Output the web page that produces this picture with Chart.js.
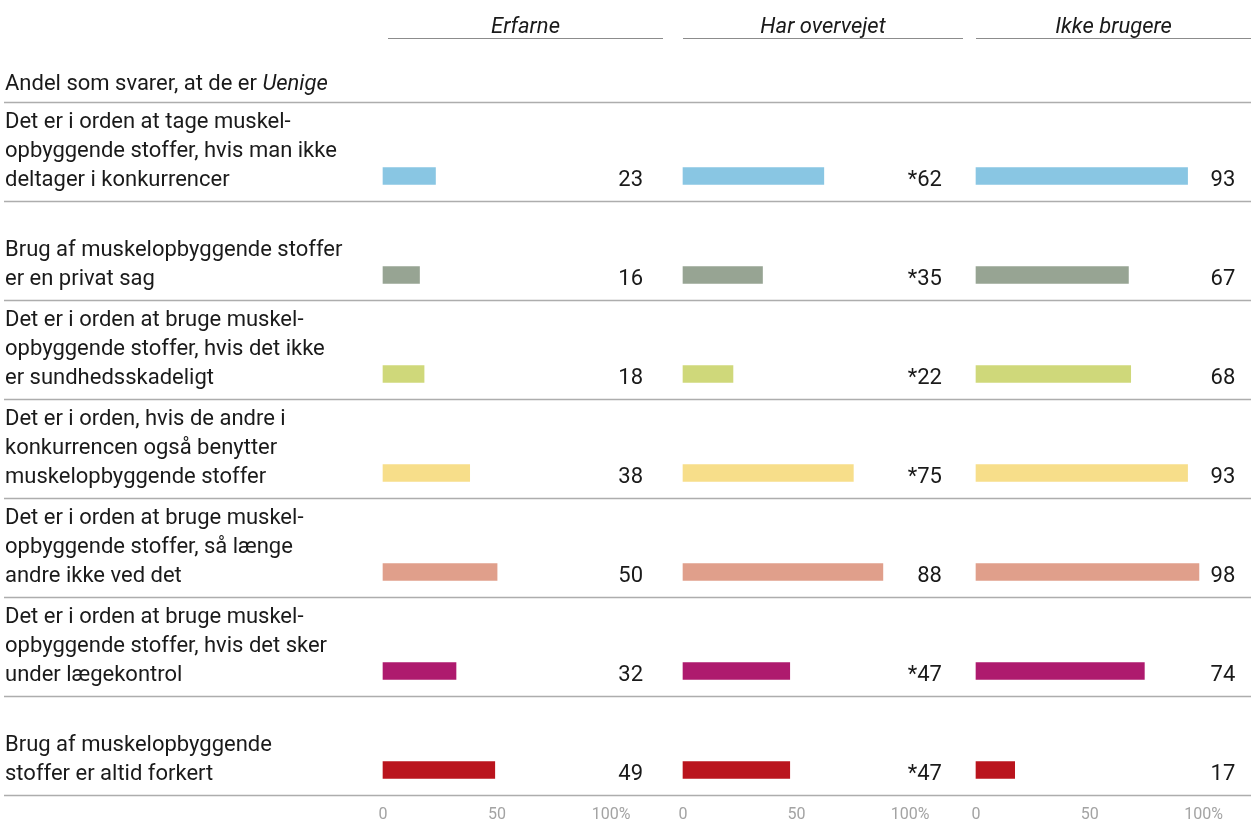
<!DOCTYPE html>
<html>
<head>
<meta charset="utf-8">
<script src="https://cdn.jsdelivr.net/npm/chart.js@4/dist/chart.umd.min.js"></script>
<style>
  html, body { margin: 0; padding: 0; background: #fff; }
  #wrap { width: 1251px; height: 823px; }
</style>
</head>
<body>
<div id="wrap"><canvas id="uenige"></canvas></div>
<script>
// statements (one array of lines per row)
var statements = [
    ['Det er i orden at tage muskel-', 'opbyggende stoffer, hvis man ikke', 'deltager i konkurrencer'],
    ['Brug af muskelopbyggende stoffer', 'er en privat sag'],
    ['Det er i orden at bruge muskel-', 'opbyggende stoffer, hvis det ikke', 'er sundhedsskadeligt'],
    ['Det er i orden, hvis de andre i', 'konkurrencen også benytter', 'muskelopbyggende stoffer'],
    ['Det er i orden at bruge muskel-', 'opbyggende stoffer, så længe', 'andre ikke ved det'],
    ['Det er i orden at bruge muskel-', 'opbyggende stoffer, hvis det sker', 'under lægekontrol'],
    ['Brug af muskelopbyggende', 'stoffer er altid forkert']
];
var groups = ['Erfarne', 'Har overvejet', 'Ikke brugere'];

var erfarne = [23, 16, 18, 38, 50, 32, 49];
var harOvervejet = [62, 35, 22, 75, 88, 47, 47];
var ikkeBrugere = [93, 67, 68, 93, 98, 74, 17];
// rows marked with * in "Har overvejet"
var harOvervejetStar = [true, true, true, true, false, true, true];

var tickValues = [0, 50, 100];
var rowColors = ['#89c6e3', '#97a493', '#cfd87a', '#f7de8a', '#e09f8b', '#ae1a6e', '#ba141d'];

var fontFamily = 'Roboto, "Noto Sans", sans-serif';
Chart.defaults.font.family = fontFamily;

function panelAxis(max, weight) {
    return {
        type: 'linear',
        position: 'bottom',
        stack: 'panels',
        stackWeight: weight,
        min: 0,
        max: max,
        grid: { display: false, drawTicks: false },
        border: { display: false },
        afterBuildTicks: function (axis) {
            axis.ticks = tickValues.map(function (v) { return { value: v }; });
        },
        afterFit: function (axis) {
            // fixed band under the bars, no extra side padding
            axis.height = 53;
            axis.paddingLeft = 0;
            axis.paddingRight = 0;
        },
        ticks: {
            padding: 35,
            color: '#a3a3a3',
            font: { size: 16 },
            maxRotation: 0,
            autoSkip: false,
            callback: function (v) { return v === 100 ? '100%' : v; }
        }
    };
}

// headers, row labels, separators and value labels
var panelFrame = {
    id: 'panelFrame',
    afterDraw: function (chart) {
        var ctx = chart.ctx;
        var y = chart.scales.y;
        var w = chart.width;
        var axisIds = ['x1', 'x2', 'x3'];
        var stars = [null, harOvervejetStar, null];
        ctx.save();

        // group headers
        axisIds.forEach(function (id, k) {
            var s = chart.scales[id];
            var a = s.left + (k === 0 ? 5 : 0), b = Math.min(s.left + 280, w);
            ctx.strokeStyle = '#8c8c8c';
            ctx.lineWidth = 1;
            ctx.beginPath();
            ctx.moveTo(a, 38.5);
            ctx.lineTo(b, 38.5);
            ctx.stroke();
            ctx.fillStyle = '#1a1a1a';
            ctx.font = 'italic 22px ' + fontFamily;
            ctx.textAlign = 'center';
            ctx.textBaseline = 'alphabetic';
            ctx.fillText(groups[k], (a + b) / 2, 33);
        });

        // subtitle
        ctx.textAlign = 'left';
        ctx.textBaseline = 'middle';
        ctx.font = '22px ' + fontFamily;
        var lead = 'Andel som svarer, at de er ';
        ctx.fillText(lead, 5, 84);
        var leadW = ctx.measureText(lead).width;
        ctx.font = 'italic 22px ' + fontFamily;
        ctx.fillText('Uenige', 5 + leadW, 84);

        // separators
        ctx.strokeStyle = '#adadad';
        ctx.lineWidth = 1.5;
        for (var i = 0; i <= statements.length; i++) {
            var yy = Math.round(y.getPixelForValue(i - 0.75)) + 0.5;
            ctx.beginPath();
            ctx.moveTo(4, yy);
            ctx.lineTo(w, yy);
            ctx.stroke();
        }

        // row labels, last line level with the bar
        ctx.font = '22px ' + fontFamily;
        ctx.fillStyle = '#1a1a1a';
        ctx.textAlign = 'left';
        statements.forEach(function (lines, r) {
            var base = y.getPixelForValue(r) + 4;
            lines.forEach(function (line, j) {
                ctx.fillText(line, 5, base - (lines.length - 1 - j) * 29);
            });
        });

        // value labels
        ctx.textAlign = 'right';
        chart.data.datasets.forEach(function (ds, d) {
            var s = chart.scales[axisIds[d]];
            ds.data.forEach(function (v, r) {
                var txt = (stars[d] && stars[d][r] ? '*' : '') + v;
                ctx.fillText(txt, s.getPixelForValue(114), y.getPixelForValue(r) + 4);
            });
        });
        ctx.restore();
    }
};

var datasets = [erfarne, harOvervejet, ikkeBrugere].map(function (values, d) {
    return {
        label: groups[d],
        data: values,
        xAxisID: 'x' + (d + 1),
        yAxisID: 'y',
        backgroundColor: rowColors,
        grouped: false,
        barThickness: 17,
        clip: false
    };
});

var contexto = document.getElementById('uenige').getContext('2d');

var grafico = new Chart(contexto, {
    type: 'bar',
    data: {
        labels: statements.map(function (l) { return l.join(' '); }),
        datasets: datasets
    },
    options: {
        indexAxis: 'y',
        responsive: true,
        maintainAspectRatio: false,
        animation: false,
        layout: { padding: { top: 176, left: 383, right: 2, bottom: 0 } },
        plugins: {
            legend: { display: false },
            tooltip: { enabled: false }
        },
        scales: {
            y: { type: 'category', display: false, offset: false },
            x1: panelAxis(131.5, 300),
            x2: panelAxis(129, 293),
            x3: panelAxis(120, 273)
        }
    },
    plugins: [panelFrame]
});
</script>
</body>
</html>
